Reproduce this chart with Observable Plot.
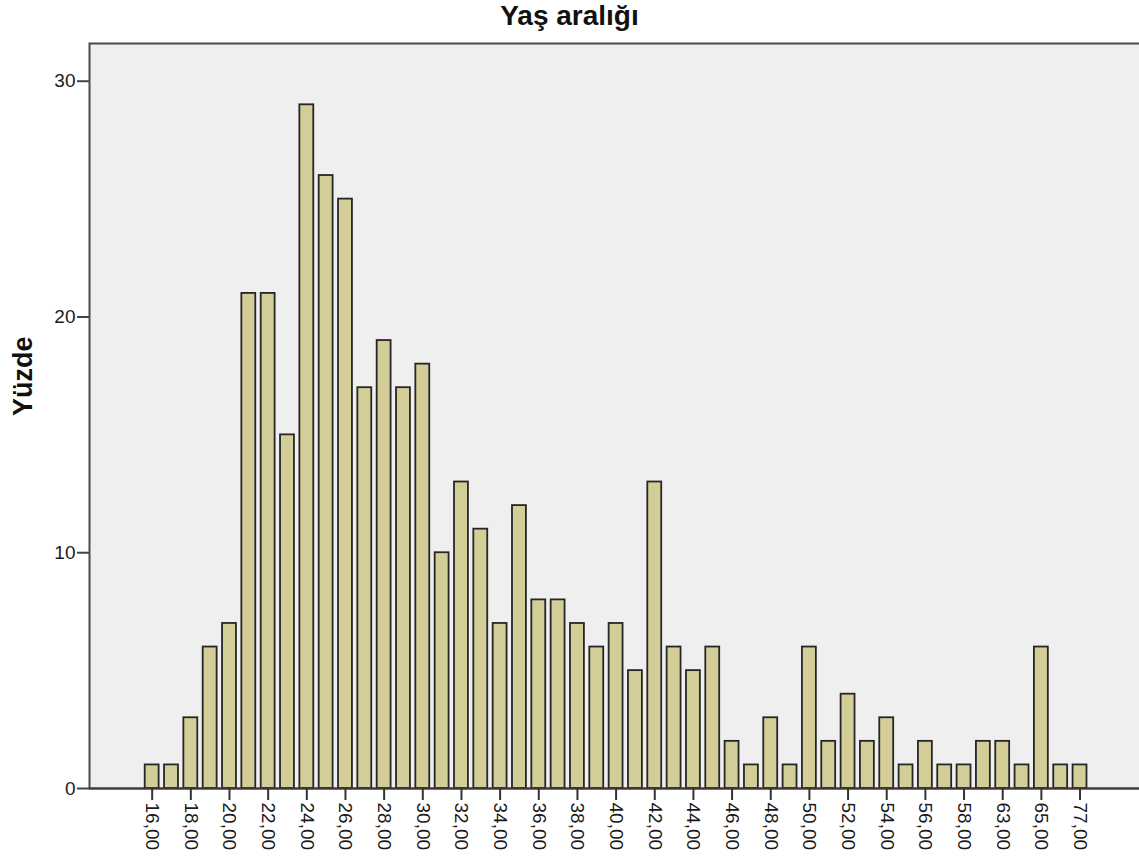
<!DOCTYPE html>
<html>
<head>
<meta charset="utf-8">
<script src="https://cdn.jsdelivr.net/npm/d3@7"></script>
<script src="https://cdn.jsdelivr.net/npm/@observablehq/plot@0.6"></script>
<style>
  html, body { margin: 0; padding: 0; background: #fff; overflow: hidden; }
  #title { height: 42px; line-height: 37px; text-align: center; font: bold 28px "Liberation Sans", Arial, sans-serif; color: #111; white-space: nowrap; }
</style>
</head>
<body>
<div id="title">Yaş aralığı</div>
<div id="chart"></div>
<script>
const ages = [16,17,18,19,20,21,22,23,24,25,26,27,28,29,30,31,32,33,34,35,36,37,38,39,40,41,42,43,44,45,46,47,48,49,50,51,52,53,54,55,56,57,58,60,63,64,65,70,77];
const values = [1,1,3,6,7,21,21,15,29,26,25,17,19,17,18,10,13,11,7,12,8,8,7,6,7,5,13,6,5,6,2,1,3,1,6,2,4,2,3,1,2,1,1,2,2,1,6,1,1];
const tickLabels = [16,18,20,22,24,26,28,30,32,34,36,38,40,42,44,46,48,50,52,54,56,58,63,65,77];
const yTicks = [0,10,20,30];
const yLabel = "Yüzde";

const data = ages.map((a, i) => ({age: a, value: values[i]}));

const chart = Plot.plot({
  width: 1142,
  height: 816,
  marginTop: 1,
  marginBottom: 70,
  marginLeft: 89,
  marginRight: 0,
  style: "max-width:none;overflow:visible;background:transparent;font-family:'Liberation Sans',Arial,sans-serif;color:#1a1a1a;",
  x: {type: "band", domain: ages, padding: 0.28, round: false, insetLeft: 50.3, insetRight: 50.1},
  y: {domain: [0, 31.6]},
  marks: [
    Plot.frame({fill: "#efefef", stroke: "#4a4a4a", strokeWidth: 2}),
    Plot.barY(data, {x: "age", y: "value", fill: "#d3ce97", stroke: "#262626", strokeWidth: 1.8}),
    Plot.ruleY([0], {stroke: "#3a3a3a", strokeWidth: 2}),
    Plot.axisY({ticks: yTicks, tickSize: 12, tickPadding: 2, fontSize: 19, label: null, stroke: "#444", strokeWidth: 2}),
    Plot.axisX({ticks: tickLabels, tickRotate: 90, tickSize: 12, tickPadding: 2, fontSize: 19, label: null,
      tickFormat: d => d.toFixed(2).replace(".", ","), stroke: "#333", strokeWidth: 2}),
    Plot.text([yLabel], {frameAnchor: "left", dx: -66, rotate: -90, fontSize: 27, fontWeight: "bold", fill: "#111"})
  ]
});
document.getElementById("chart").appendChild(chart);
</script>
</body>
</html>
